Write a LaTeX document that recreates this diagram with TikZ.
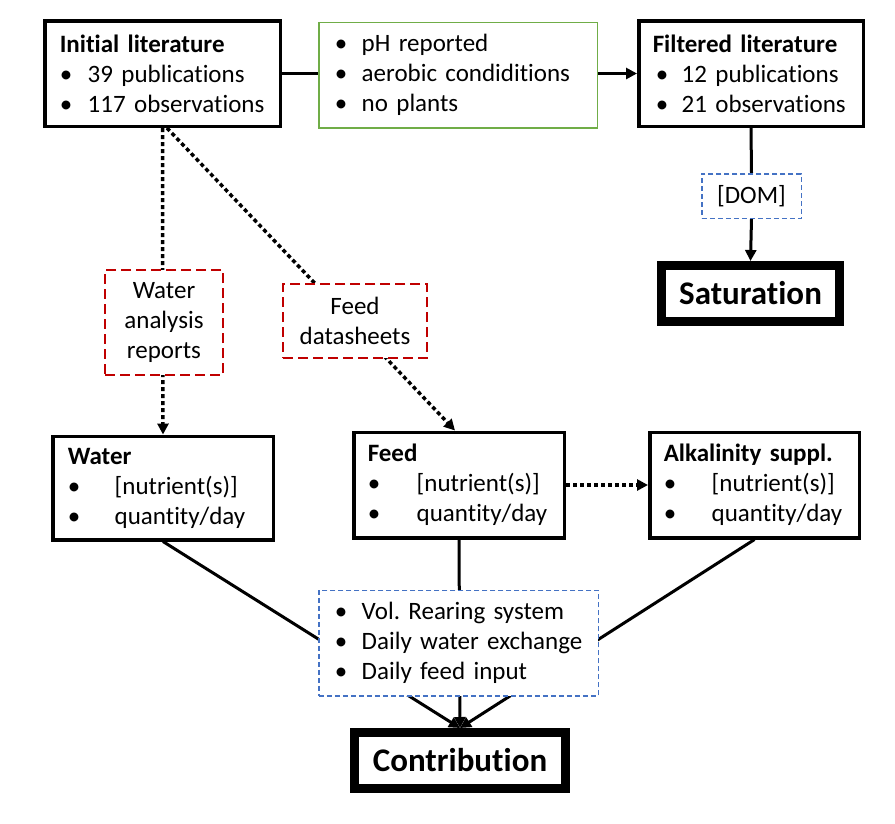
\documentclass[tikz,border=0pt]{standalone}
\usepackage{fontspec}
\setmainfont{Carlito}[Ligatures=NoCommon]
\usetikzlibrary{arrows.meta,backgrounds}
\definecolor{boxgreen}{RGB}{112,173,71}
\definecolor{boxblue}{RGB}{68,114,196}
\definecolor{boxred}{RGB}{192,0,0}
\newcommand{\li}[2]{\mbox{\makebox[#1][l]{\textbullet}#2}}
\frenchspacing
\begin{document}
\begin{tikzpicture}[x=1pt,y=-1pt,
  txt/.style={font=\fontsize{25pt}{30pt}\selectfont},
  blackbox/.style={draw, line width=3.5pt, fill=white, txt, align=left, inner ysep=0pt},
  greenbox/.style={draw=boxgreen, line width=1.5pt, fill=white, txt, align=left, inner ysep=0pt},
  bluebox/.style={draw=boxblue, line width=1.5pt, dash pattern=on 5pt off 3pt, fill=white, txt, align=left, inner ysep=0pt},
  redbox/.style={draw=boxred, line width=2pt, dash pattern=on 10pt off 5pt, fill=white, txt, align=center, inner sep=0pt},
  bigbox/.style={draw, line width=9pt, fill=white, font=\fontsize{33pt}{38pt}\selectfont\bfseries, inner sep=0pt},
  conn/.style={line width=3pt},
  dotline/.style={line width=3.5pt, dash pattern=on 4pt off 3pt},
  arr/.style={-{Triangle[length=11pt,width=11pt]}}
]
\useasboundingbox (0,0) rectangle (895,823);

% top row
\node[blackbox, minimum width=235.5pt, minimum height=105.5pt, text width=205.5pt, inner xsep=15pt] (init) at (162.5,73.5)
  {\textbf{Initial literature}\\\li{28pt}{39 publications}\\\li{28pt}{117 observations}};
\node[greenbox, minimum width=278.5pt, minimum height=105.5pt, text width=246.5pt, inner xsep=16pt] (green) at (458,75)
  {\li{27pt}{pH reported}\\\li{27pt}{aerobic condiditions}\\\li{27pt}{no plants}};
\node[blackbox, minimum width=224.5pt, minimum height=105.5pt, text width=196.5pt, inner xsep=14pt] (filt) at (751,73.5)
  {\textbf{Filtered literature}\\\hspace*{3pt}\li{26pt}{12 publications}\\\hspace*{3pt}\li{26pt}{21 observations}};

% DOM and saturation
\node[bluebox, minimum width=99.5pt, minimum height=44.5pt, align=center, inner sep=0pt] (dom) at (751.5,196) {[DOM]};
\node[bigbox, minimum width=178pt, minimum height=56pt] (sat) at (750.5,293.5) {Saturation};

% data sources
\node[redbox, minimum width=118pt, minimum height=105pt] (wa) at (164,322.5) {Water\\analysis\\reports};
\node[redbox, minimum width=144pt, minimum height=74pt] (fd) at (355,321) {Feed\\datasheets};

% middle row
\node[blackbox, minimum width=220.5pt, minimum height=103.5pt, text width=190.5pt, inner xsep=15pt] (water) at (163,488)
  {\textbf{Water}\\\li{47pt}{[nutrient(s)]}\\\li{47pt}{quantity/day}};
\node[blackbox, minimum width=210.5pt, minimum height=105.5pt, text width=182.5pt, inner xsep=14pt] (feed) at (459,485)
  {\textbf{Feed}\\\li{49pt}{[nutrient(s)]}\\\li{49pt}{quantity/day}};
\node[blackbox, minimum width=209.5pt, minimum height=105.5pt, text width=181.5pt, inner xsep=14pt] (alk) at (754.5,485)
  {\textbf{Alkalinity suppl.}\\\li{48pt}{[nutrient(s)]}\\\li{48pt}{quantity/day}};

% parameters and contribution
\node[bluebox, minimum width=279.5pt, minimum height=105.5pt, text width=247.5pt, inner xsep=16pt] (param) at (458.5,643)
  {\li{27pt}{Vol. Rearing system}\\\li{27pt}{Daily water exchange}\\\li{27pt}{Daily feed input}};
\node[bigbox, minimum width=211pt, minimum height=56pt] (contrib) at (460,760.5) {Contribution};

\begin{pgfonlayer}{background}
  \draw[conn] (init.east) -- (init.east -| green.west);
  \draw[conn, arr] (init.east -| green.east) -- (init.east -| filt.west);
  \draw[conn] (filt.south) -- (dom.north);
  \draw[conn, arr] (dom.south) -- (sat.north);
  \draw[dotline, arr] (init.south) -- (water.north);
  \draw[dotline, arr] ([xshift=4.5pt]init.south) -- ([xshift=-4pt]feed.north);
  \draw[dotline, arr] (feed.east) -- (feed.east -| alk.west);
  \draw[conn, arr] (water.south) -- (contrib.north);
  \draw[conn, arr] (feed.south) -- (contrib.north);
  \draw[conn, arr] (alk.south) -- (contrib.north);
\end{pgfonlayer}
\end{tikzpicture}
\end{document}
